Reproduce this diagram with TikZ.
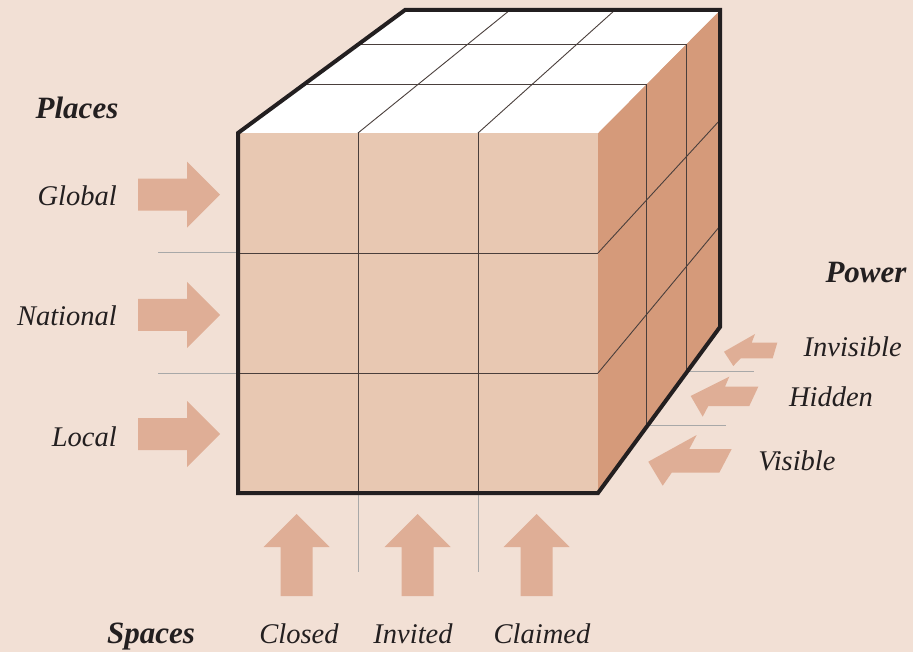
\documentclass[tikz,border=0pt]{standalone}
\usepackage{fontspec}
\setmainfont{Liberation Serif}
\definecolor{bgc}{HTML}{F2E0D5}
\definecolor{frontc}{HTML}{E8C8B2}
\definecolor{rightc}{HTML}{D59A7A}
\definecolor{arrowc}{HTML}{DFAE96}
\definecolor{edgec}{HTML}{231F20}
\definecolor{gridc}{HTML}{4A3F3C}
\definecolor{extc}{HTML}{A8A8A8}
\tikzset{
  gridline/.style={draw=gridc, line width=0.9pt},
  extline/.style={draw=extc, line width=1pt},
  outline/.style={draw=edgec, line width=4pt, line join=miter},
  lbl/.style={font=\fontsize{28.5}{30}\selectfont\itshape, text=edgec, inner sep=0pt},
  head/.style={font=\fontsize{31}{33}\selectfont\bfseries\itshape, text=edgec, inner sep=0pt},
  rarrow/.pic={\fill[arrowc] (0,-16)--(49,-16)--(49,-33)--(82,0)--(49,33)--(49,16)--(0,16)--cycle;},
  uarrow/.pic={\fill[arrowc] (-16,82)--(-16,33)--(-33,33)--(0,0)--(33,33)--(16,33)--(16,82)--cycle;}
}
\begin{document}
\begin{tikzpicture}[x=1pt,y=-1pt]
\useasboundingbox (0,0) rectangle (913,652);
\fill[bgc] (0,0) rectangle (913,652);
% faces
\fill[frontc] (238,133) rectangle (598,493);
\fill[rightc] (598,133) -- (720,10) -- (720,327) -- (598,493) -- cycle;
\fill[white] (238,133) -- (405,10) -- (720,10) -- (598,133) -- cycle;
% extension lines
\draw[extline] (158,253) -- (238,253);
\draw[extline] (158,373) -- (238,373);
\draw[extline] (358,493) -- (358,572);
\draw[extline] (478,493) -- (478,572);
\draw[extline] (686.3,371.5) -- (754,371.5);
\draw[extline] (646.6,425) -- (726,425);
% front grid
\draw[gridline] (358,133) -- (358,493);
\draw[gridline] (478,133) -- (478,493);
\draw[gridline] (238,253) -- (598,253);
\draw[gridline] (238,373) -- (598,373);
% top grid
\draw[gridline] (304.5,84) -- (646.6,84);
\draw[gridline] (359,44) -- (686.3,44);
\draw[gridline] (358,133) -- (510,10);
\draw[gridline] (478,133) -- (615,10);
% right grid
\draw[gridline] (646.6,84) -- (646.6,425.4);
\draw[gridline] (686.3,44) -- (686.3,371.5);
\draw[gridline] (598,253) -- (720,120);
\draw[gridline] (598,373) -- (720,226);
% outline
\draw[outline] (238,133) -- (405,10) -- (720,10) -- (720,327) -- (598,493) -- (238,493) -- cycle;
% left arrows
\pic at (138,194.7) {rarrow};
\pic at (138,315) {rarrow};
\pic at (138,434) {rarrow};
% bottom arrows
\pic at (296.7,514) {uarrow};
\pic at (417.7,514) {uarrow};
\pic at (536.5,514) {uarrow};
% power arrows
\fill[arrowc] (724,351.7) -- (755,334) -- (751.7,342.7) -- (777.3,342.7) -- (772.7,358.3) -- (740.7,358.3) -- (733.3,366) -- cycle;
\fill[arrowc] (690.7,396) -- (729.3,376.7) -- (725,386.7) -- (758.3,386.7) -- (749.3,406) -- (708.3,406) -- (702.7,416.7) -- cycle;
\fill[arrowc] (648.3,461.7) -- (696.7,435) -- (689.3,449) -- (731.7,449) -- (719.3,472.7) -- (671.7,472.7) -- (662.7,485.7) -- cycle;
% labels
\node[head, anchor=base] (places) at (77,119) {Places};
\node[lbl, anchor=base east] (global) at (117,206) {Global};
\node[lbl, anchor=base east] (national) at (117,326) {National};
\node[lbl, anchor=base east] (local) at (117,446) {Local};
\node[head, anchor=base] (power) at (866,283) {Power};
\node[lbl, anchor=base] (invisible) at (852.7,356.5) {Invisible};
\node[lbl, anchor=base] (hidden) at (831,406.5) {Hidden};
\node[lbl, anchor=base] (visible) at (797,470) {Visible};
\node[head, anchor=base] (spaces) at (151,643) {Spaces};
\node[lbl, anchor=base] (closed) at (299,643) {Closed};
\node[lbl, anchor=base] (invited) at (413,643) {Invited};
\node[lbl, anchor=base] (claimed) at (542,643) {Claimed};
\end{tikzpicture}
\end{document}
